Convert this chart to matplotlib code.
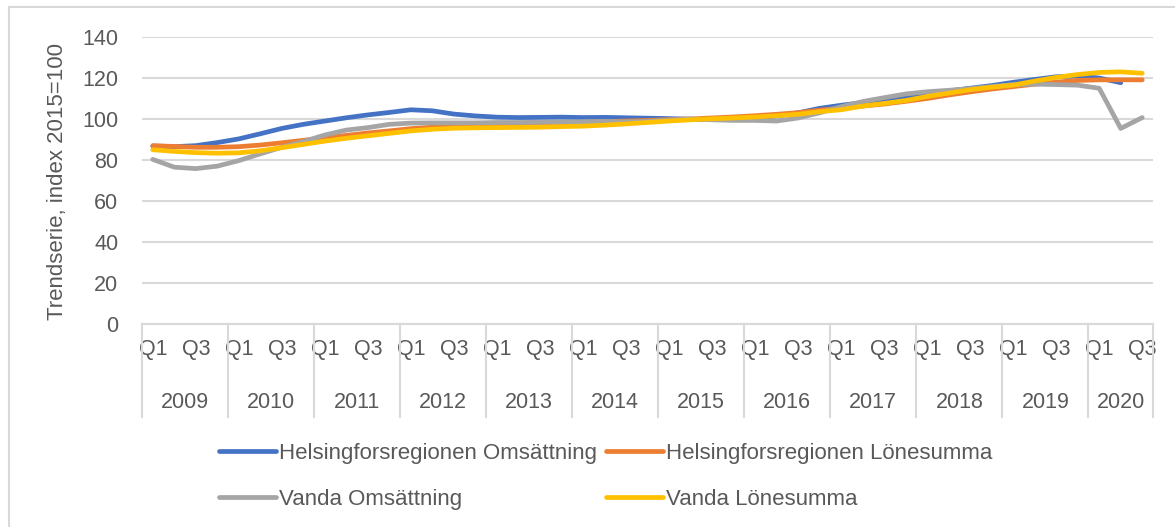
import numpy as np
import matplotlib
matplotlib.use("Agg")
import matplotlib.pyplot as plt
from matplotlib.lines import Line2D
import matplotlib.transforms as mtransforms

plt.rcParams['font.family'] = ['Liberation Sans', 'DejaVu Sans']

years = [str(y) for y in range(2009, 2021)]
quarters = ["Q1", "Q2", "Q3", "Q4"]
n = 47  # 2009 Q1 .. 2020 Q3

hel_oms = [86.8, 86.5, 87.0, 88.5, 90.3, 92.8, 95.4, 97.4, 99.0, 100.6, 102.0, 103.2, 104.5, 104.0, 102.4, 101.5,
           100.9, 100.7, 100.8, 100.9, 100.7, 100.8, 100.6, 100.4, 100.2, 99.9, 99.7, 99.8, 100.5, 101.5, 103.0,
           105.2, 106.7, 108.0, 109.3, 110.9, 112.2, 113.7, 115.0, 116.3, 117.9, 119.3, 120.6, 121.0, 120.0, 117.7,
           np.nan]
hel_lon = [87.0, 86.6, 86.2, 86.2, 86.5, 87.3, 88.4, 89.6, 90.8, 92.0, 93.2, 94.2, 95.3, 96.0, 96.6, 97.0,
           97.4, 97.7, 97.9, 98.1, 98.4, 98.7, 99.0, 99.3, 99.7, 100.0, 100.5, 101.0, 101.6, 102.3, 103.1,
           104.3, 105.3, 106.3, 107.3, 108.6, 110.0, 111.7, 113.2, 114.6, 115.8, 117.0, 118.0, 118.8, 119.1, 119.1,
           119.1]
van_oms = [80.3, 76.5, 75.8, 77.0, 79.7, 83.0, 86.2, 89.0, 92.2, 94.6, 95.8, 97.4, 98.0, 98.1, 98.1, 98.1,
           98.3, 98.3, 98.4, 98.5, 98.7, 98.8, 98.6, 98.8, 99.5, 100.0, 99.6, 99.3, 99.3, 99.0, 100.5,
           103.0, 106.0, 108.5, 110.4, 112.2, 113.3, 114.0, 114.8, 115.8, 116.8, 117.0, 116.8, 116.5, 115.0, 95.4,
           100.7]
van_lon = [85.0, 84.2, 83.6, 83.3, 83.5, 84.5, 86.0, 87.6, 89.2, 90.6, 91.8, 93.0, 94.2, 95.0, 95.5, 95.7,
           95.8, 95.9, 96.0, 96.3, 96.5, 97.0, 97.6, 98.3, 99.0, 99.6, 100.1, 100.5, 101.0, 101.6, 102.3,
           103.6, 104.5, 106.3, 107.6, 109.0, 111.0, 112.6, 114.3, 115.5, 116.5, 118.5, 120.3, 121.7, 122.7, 123.0,
           122.3]

series = [
    ("Helsingforsregionen Omsättning", hel_oms, "#4472C4"),
    ("Helsingforsregionen Lönesumma", hel_lon, "#ED7D31"),
    ("Vanda Omsättning", van_oms, "#A5A5A5"),
    ("Vanda Lönesumma", van_lon, "#FFC000"),
]

txt = "#595959"
grid = "#D9D9D9"
fs = 15.5

fig = plt.figure(figsize=(11.75, 5.27), dpi=100)
ax = fig.add_axes([142 / 1175, 1 - 324 / 527, (1153 - 142) / 1175, (324 - 37) / 527])

x = np.arange(n)
lines = {}
for name, vals, col in series:
    l, = ax.plot(x, vals, color=col, lw=3.4, solid_capstyle="round", solid_joinstyle="round", label=name)
    lines[name] = l

ax.set_xlim(-0.5, n - 0.5)
ax.set_ylim(0, 140)
ax.set_yticks(range(0, 141, 20))
ax.yaxis.grid(True, color=grid, lw=1.5)
ax.set_axisbelow(True)
for s in ["top", "right", "left"]:
    ax.spines[s].set_visible(False)
ax.spines["bottom"].set_color(grid)
ax.spines["bottom"].set_linewidth(1.5)

qlabels = [quarters[i % 4] for i in range(0, n, 2)]
ax.set_xticks(range(0, n, 2))
ax.set_xticklabels(qlabels)
ax.tick_params(axis="both", length=0, labelsize=fs, labelcolor=txt)
ax.tick_params(axis="x", pad=11)
ax.tick_params(axis="y", pad=17)

# year level of the category axis
trans = mtransforms.blended_transform_factory(ax.transData, ax.transAxes)
bounds = list(range(0, n, 4)) + [n]
for i, yr in enumerate(years):
    lo = bounds[i] - 0.5
    hi = min(bounds[i] + 4, n) - 0.5
    ax.text((lo + hi) / 2, -0.272, yr, transform=trans, ha="center", va="center",
            fontsize=fs, color=txt)
for b in bounds:
    ax.plot([b - 0.5, b - 0.5], [0, -0.324], transform=trans, color=grid, lw=1.5, clip_on=False)

fig.text(58 / 1175, 1 - 182 / 527, "Trendserie, index 2015=100", rotation=90,
         ha="center", va="center", fontsize=16, color=txt)

order = ["Helsingforsregionen Omsättning", "Vanda Omsättning",
         "Helsingforsregionen Lönesumma", "Vanda Lönesumma"]
leg = fig.legend([lines[k] for k in order], order, loc="center", bbox_to_anchor=(0.5153, 0.096),
                 ncol=2, frameon=False, fontsize=16, handlelength=2.57, handletextpad=0.14,
                 columnspacing=0.4, labelspacing=1.1)
for t in leg.get_texts():
    t.set_color(txt)

# chart area border (left and top edges visible)
fig.add_artist(Line2D([9 / 1175, 9 / 1175], [0, 1 - 7 / 527], color=grid, lw=1.5))
fig.add_artist(Line2D([9 / 1175, 1], [1 - 7 / 527, 1 - 7 / 527], color=grid, lw=1.5))

fig.savefig("out.png", dpi=100)
